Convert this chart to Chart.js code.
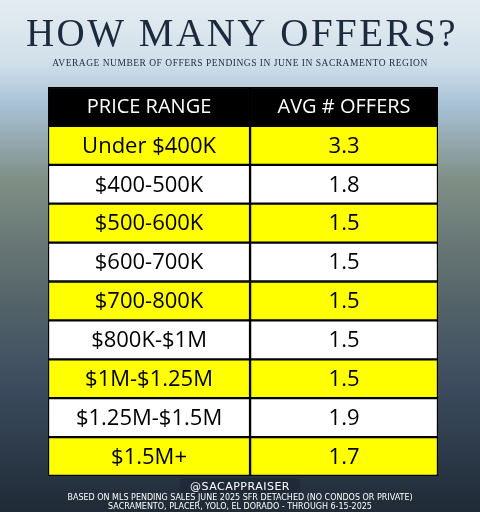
<!DOCTYPE html>
<html><head><meta charset="utf-8">
<script src="https://cdn.jsdelivr.net/npm/chart.js@4"></script>
<style>html,body{margin:0;padding:0;background:#000}#w{width:480px;height:512px}</style>
</head><body><div id="w"><canvas id="c" width="480" height="512"></canvas></div>
<script>
const headers = ["PRICE RANGE", "AVG # OFFERS"];
const categories = ["Under $400K","$400-500K","$500-600K","$600-700K","$700-800K","$800K-$1M","$1M-$1.25M","$1.25M-$1.5M","$1.5M+"];
const avgOffers = ["3.3","1.8","1.5","1.5","1.5","1.5","1.5","1.9","1.7"];

const rows = ["header", ...categories];
const bg = rows.map((r,i)=> i===0 ? "#000000" : (i%2===1 ? "#ffff00" : "#ffffff"));

const decor = {
  id:"decor",
  beforeDraw(chart){
    const ctx = chart.ctx, W = chart.width, H = chart.height;
    const g = ctx.createLinearGradient(0,0,0,H);
    g.addColorStop(0,"#e4ecf1"); g.addColorStop(0.12,"#d2e0ea"); g.addColorStop(0.2,"#a9c3d8");
    g.addColorStop(0.35,"#7f8f86"); g.addColorStop(0.55,"#5b6a6c"); g.addColorStop(0.75,"#3c4c5e");
    g.addColorStop(1,"#1f2a36");
    ctx.save(); ctx.fillStyle=g; ctx.fillRect(0,0,W,H);
    ctx.fillStyle="#1c2a3d"; ctx.textAlign="center"; ctx.textBaseline="middle";
    ctx.font="39px 'Liberation Serif'"; ctx.letterSpacing="2.5px";
    ctx.fillText("HOW MANY OFFERS?", W/2+2, 36);
    ctx.font="9.5px 'Liberation Serif'"; ctx.letterSpacing="0.5px";
    ctx.fillText("AVERAGE NUMBER OF OFFERS PENDINGS IN JUNE IN SACRAMENTO REGION", W/2, 63);
    ctx.restore();
  },
  afterDraw(chart){
    const ctx = chart.ctx, W = chart.width;
    const meta0 = chart.getDatasetMeta(0).data, meta1 = chart.getDatasetMeta(1).data;
    ctx.save(); ctx.textAlign="center"; ctx.textBaseline="middle";
    rows.forEach((r,i)=>{
      const a = meta0[i], b = meta1[i];
      ctx.font = i===0 ? "500 20px 'Open Sans'" : "22px 'Open Sans'";
      ctx.fillStyle = i===0 ? "#ffffff" : "#000000";
      ctx.fillText(i===0?headers[0]:categories[i-1], (a.x+a.base)/2, a.y+1);
      ctx.fillText(i===0?headers[1]:avgOffers[i-1], (b.x+b.base)/2, b.y+1);
    });
    ctx.fillStyle="rgba(30,40,55,0.85)";
    ctx.beginPath(); ctx.roundRect(180,478,120,18,3); ctx.fill();
    ctx.fillStyle="#ffffff"; ctx.font="11px 'DejaVu Sans'"; ctx.letterSpacing="0.5px";
    ctx.fillText("@SACAPPRAISER", W/2, 487);
    ctx.font="8px 'DejaVu Sans'"; ctx.letterSpacing="0px";
    ctx.fillText("BASED ON MLS PENDING SALES JUNE 2025 SFR DETACHED (NO CONDOS OR PRIVATE)", W/2, 498);
    ctx.fillText("SACRAMENTO, PLACER, YOLO, EL DORADO - THROUGH 6-15-2025", W/2, 507);
    ctx.restore();
  }
};

new Chart(document.getElementById("c"), {
  type:"bar",
  data:{ labels: rows, datasets:[
    { data: rows.map(()=>[0,1]), backgroundColor: bg, borderColor:"#000", borderWidth:1.5, borderSkipped:false, barPercentage:1, categoryPercentage:1 },
    { data: rows.map(()=>[1,1.93]), backgroundColor: bg, borderColor:"#000", borderWidth:1.5, borderSkipped:false, barPercentage:1, categoryPercentage:1 }
  ]},
  options:{
    indexAxis:"y", responsive:false, animation:false, devicePixelRatio:1,
    layout:{ padding:{ left:48, right:42, top:87, bottom:36 } },
    plugins:{ legend:{display:false}, tooltip:{enabled:false} },
    scales:{
      x:{ display:false, min:0, max:1.93 },
      y:{ display:false, stacked:true }
    }
  },
  plugins:[decor]
});
</script></body></html>
